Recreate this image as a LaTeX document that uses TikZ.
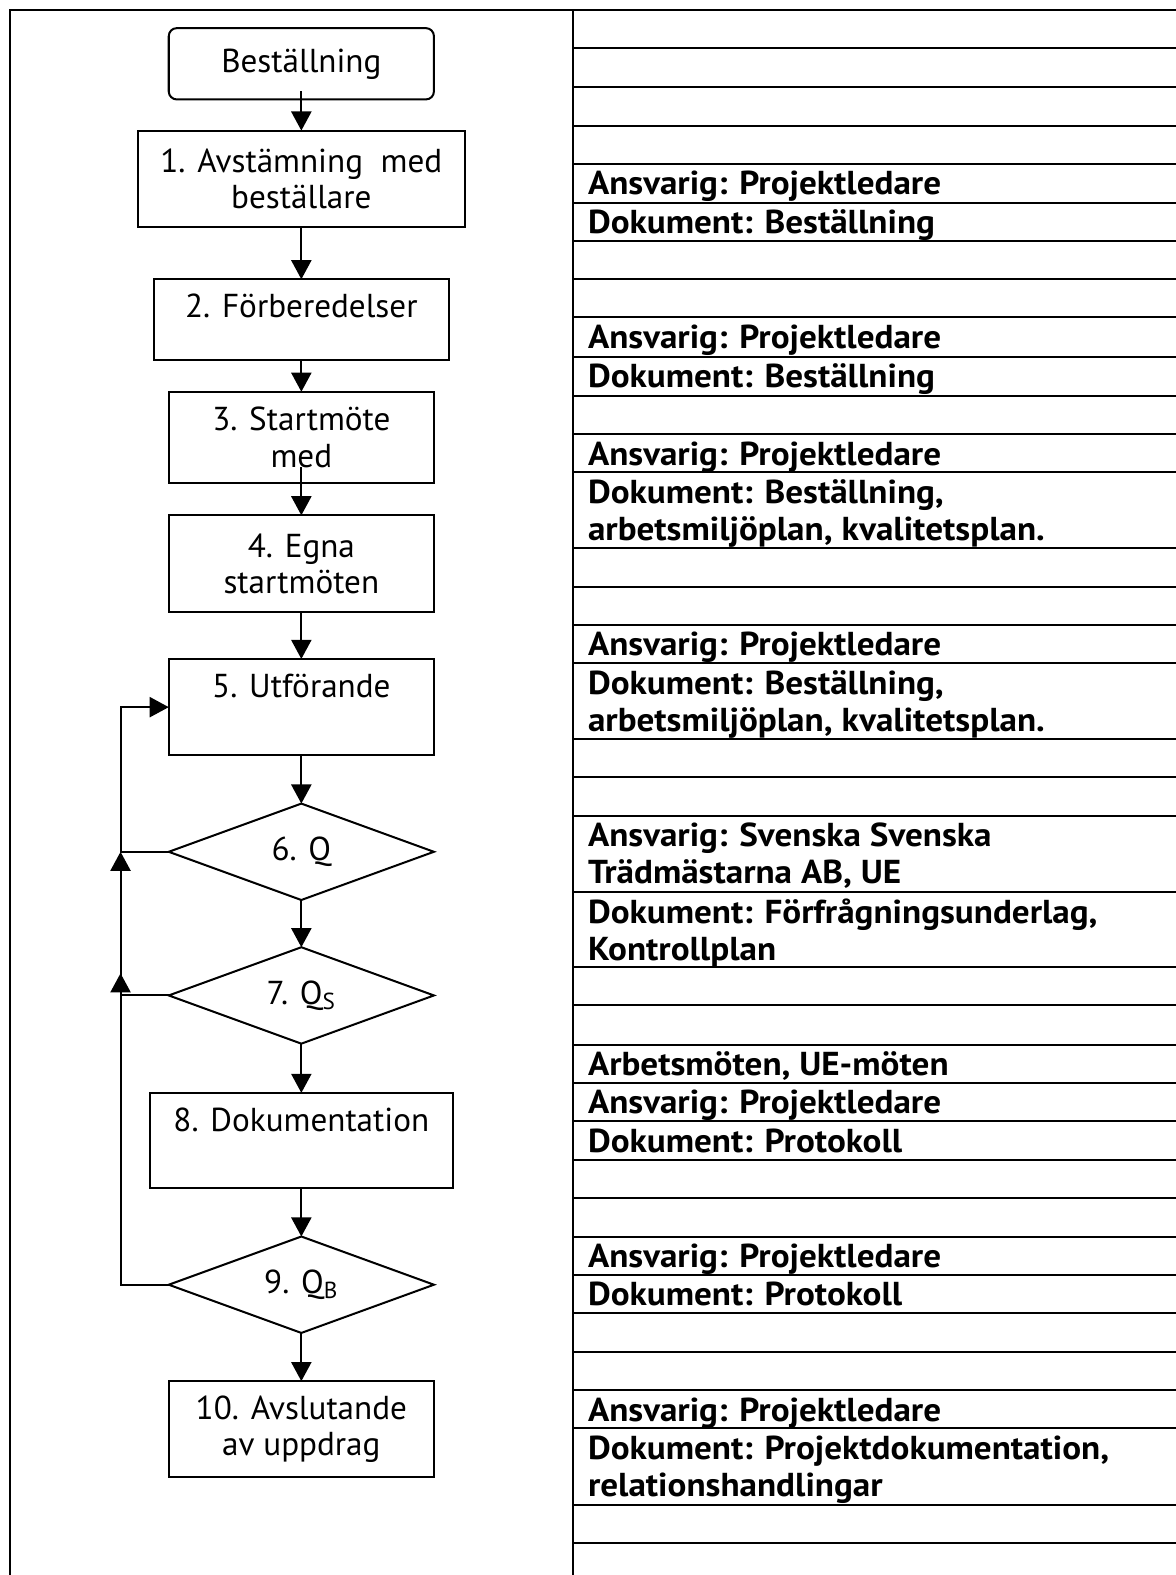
\documentclass[tikz,border=0pt]{standalone}
\usepackage{fontspec}
\setmainfont{PT Sans}
\newfontfamily\rowfont{PT Sans}[FakeStretch=1.06]
\usetikzlibrary{positioning,shapes.geometric,arrows.meta}

\begin{document}
\begin{tikzpicture}[x=0.5pt,y=-0.5pt,
  box/.style={rectangle,draw,line width=1pt,inner sep=0pt,outer sep=0pt,align=center,
    font=\fontsize{16.5}{18}\selectfont},
  topbox/.style={box,text height=19pt},
  dec/.style={diamond,draw,line width=1pt,inner sep=0pt,outer sep=0pt,aspect=2.75,
    minimum width=132pt,minimum height=48pt,font=\fontsize{16.5}{18}\selectfont},
  arr/.style={line width=1pt,-{Triangle[length=9.5pt,width=10pt]}},
  row/.style={anchor=base west,inner sep=0pt,font=\fontsize{16.5}{18}\rowfont\bfseries}]
  \useasboundingbox (0,0) rectangle (1170,1568);
  % frame and table
  \draw[line width=1pt] (10,1572) -- (10,10) -- (1172,10);
  \draw[line width=1pt] (570,10) -- (570,1572);
  \foreach \y in {48,87,125,163,202,240,278,316,355,394,432,470,546,584,622,660,
    736,774,812,888,963,1001,1040,1078,1116,1155,1193,1231,1269,1307,1346,1384,1422,1498,1536}
    \draw[line width=1pt] (570,\y) -- (1172,\y);
  % flow
  \node[box,rounded corners=4pt,minimum width=132pt,minimum height=35.5pt] (b0) at (300,63.5) {Beställning};
  \node[box,minimum width=162.5pt,minimum height=48pt,below=15.5pt of b0] (b1) {1. Avstämning\ \ med\\beställare};
  \node[topbox,text depth=21pt,minimum width=147pt,below=26pt of b1] (b2) {2. Förberedelser};
  \node[box,minimum width=132pt,minimum height=45.5pt,below=16pt of b2] (b3) {3. Startmöte\\med};
  \node[box,minimum width=132pt,minimum height=48pt,below=16pt of b3] (b4) {4. Egna\\startmöten};
  \node[topbox,text depth=29pt,minimum width=132pt,below=23.5pt of b4] (b5) {5. Utförande};
  \node[dec,below=24pt of b5] (d6) {6. Q};
  \node[dec,below=23.5pt of d6] (d7) {7. Q\textsubscript{S}};
  \node[topbox,text depth=28.5pt,minimum width=151pt,below=24.5pt of d7] (b8) {8. Dokumentation};
  \node[dec,below=24pt of b8] (d9) {9. Q\textsubscript{B}};
  \node[box,minimum width=132pt,minimum height=47.5pt,below=24pt of d9] (b10) {10. Avslutande\\av uppdrag};
  \draw[arr,shorten <=-4pt] (b0) -- (b1);
  \draw[arr,shorten <=-8pt] (b3) -- (b4);
  \foreach \a/\b in {b1/b2,b2/b3,b4/b5,b5/d6,d6/d7,d7/b8,b8/d9,d9/b10}
    \draw[arr] (\a) -- (\b);
  % loops back
  \coordinate[left=24pt of d6.west] (j6);
  \coordinate[above left=11pt and 24pt of d7.west] (j7);
  \draw[arr] (d6.west) -- (j6) |- (b5.west);
  \draw[arr] (d7.west) -| (j6);
  \draw[arr] (d9.west) -| (j7);
  % right column
  \foreach \y/\t in {194/Ansvarig: Projektledare,232/Dokument: Beställning,
    347/Ansvarig: Projektledare,386/Dokument: Beställning,
    463/Ansvarig: Projektledare,501/{Dokument: Beställning,},538/{arbetsmiljöplan, kvalitetsplan.},
    653/Ansvarig: Projektledare,691/{Dokument: Beställning,},728/{arbetsmiljöplan, kvalitetsplan.},
    843/Ansvarig: Svenska Svenska,880/{Trädmästarna AB, UE},
    919/{Dokument: Förfrågningsunderlag,},956/Kontrollplan,
    1071/{Arbetsmöten, UE-möten},1109/Ansvarig: Projektledare,1147/Dokument: Protokoll,
    1262/Ansvarig: Projektledare,1300/Dokument: Protokoll,
    1415/Ansvarig: Projektledare,1453/{Dokument: Projektdokumentation,},1490/relationshandlingar}
    \node[row] (r\y) at (585,\y) {\t};
\end{tikzpicture}
\end{document}
